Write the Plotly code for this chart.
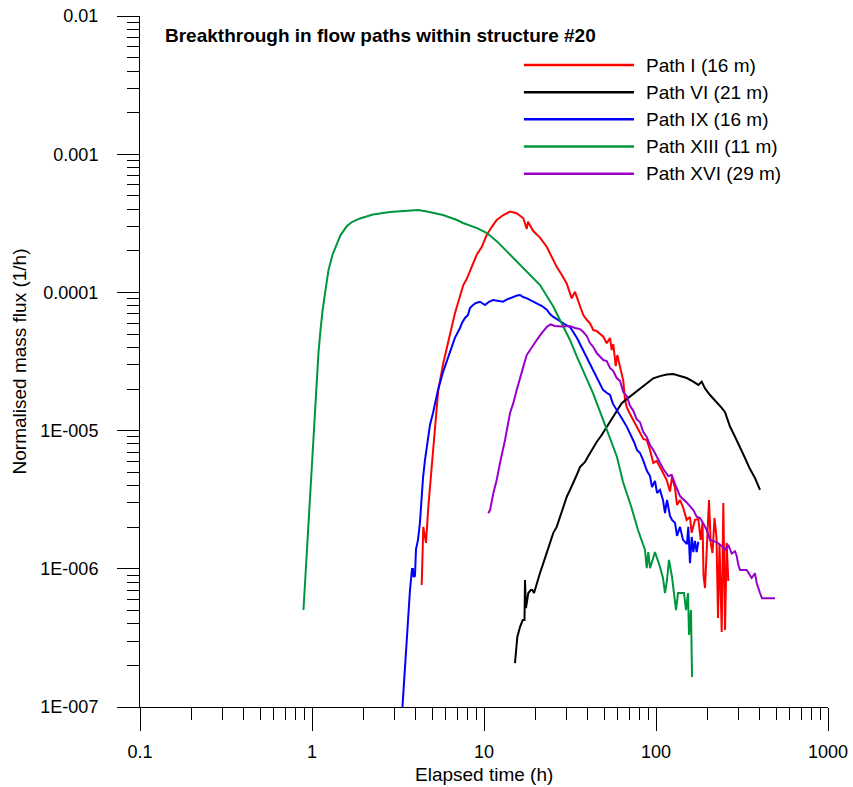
import plotly.graph_objects as go

# ---------------- data ----------------
series_names = ["Path I (16 m)", "Path VI (21 m)", "Path IX (16 m)",
                "Path XIII (11 m)", "Path XVI (29 m)"]
series_colors = ["#FF0000", "#000000", "#0000FF", "#00963C", "#9900CC"]

x_path_i = [4.343, 4.437, 4.600, 4.745, 4.965, 5.189, 5.424, 5.800, 6.200, 6.490,
            6.783, 7.253, 7.580, 7.932, 8.481, 9.071, 9.696, 10.37, 11.09, 11.85,
            12.95, 14.17, 15.49, 16.92, 17.72, 18.02, 19.34, 21.16, 23.15, 24.75,
            26.47, 28.30, 30.25, 32.35, 33.81, 36.15, 37.78, 39.70, 41.33, 43.20,
            45.20, 49.39, 51.69, 54.02, 55.26, 56.45, 58.31, 59.57, 61.76, 64.56,
            66.04, 67.57, 70.61, 73.80, 77.23, 80.73, 84.37,
            88.29, 92.28, 96.45, 100.9, 105.5, 110.3, 115.4, 120.6, 123.9, 129.0,
            132.5, 137.9, 143.5, 150.8, 157.6, 161.3, 168.5, 176.2, 181.9, 186.4,
            188.9, 192.7, 197.2, 203.3, 208.0, 213.1, 218.9, 224.8, 229.4, 234.0,
            241.0, 246.3, 251.9, 257.6, 263.2]
y_path_i = [7.64e-7, 2.01e-6, 1.54e-6, 2.80e-6, 5.45e-6, 1.06e-5, 1.97e-5, 3.08e-5, 4.52e-5, 5.62e-5,
            7.10e-5, 9.42e-5, 1.13e-4, 1.25e-4, 1.53e-4, 1.87e-4, 2.13e-4, 2.60e-4, 2.97e-4, 3.34e-4,
            3.63e-4, 3.84e-4, 3.74e-4, 3.44e-4, 2.88e-4, 3.25e-4, 2.78e-4, 2.49e-4, 2.14e-4, 1.81e-4,
            1.53e-4, 1.34e-4, 1.16e-4, 9.06e-5, 1.01e-4, 7.97e-5, 6.86e-5, 6.31e-5, 5.98e-5, 5.34e-5,
            5.26e-5, 4.78e-5, 4.28e-5, 4.68e-5, 3.83e-5, 4.23e-5, 2.93e-5, 3.52e-5, 2.89e-5, 2.29e-5,
            1.67e-5, 1.48e-5, 1.32e-5, 1.19e-5, 1.06e-5, 9.61e-6, 8.70e-6,
            8.55e-6, 7.24e-6, 5.83e-6, 6.03e-6, 5.45e-6, 4.93e-6, 4.39e-6, 3.62e-6, 4.62e-6, 3.84e-6,
            2.90e-6, 3.15e-6, 2.80e-6, 2.26e-6, 2.37e-6, 1.82e-6, 2.26e-6, 2.29e-6, 1.62e-6, 2.18e-6,
            9.02e-7, 7.26e-7, 1.37e-6, 3.15e-6, 1.54e-6, 1.30e-6, 2.33e-6, 1.67e-6, 4.41e-7, 1.51e-6,
            3.49e-7, 2.99e-6, 3.61e-7, 1.54e-6, 8.16e-7]

x_path_vi = [15.14, 15.35, 15.62, 16.19, 16.79, 17.20, 17.31, 17.54, 18.10, 18.69,
             19.10, 19.54, 20.25, 21.16, 22.13, 23.15, 24.19, 25.29, 26.47, 27.67,
             28.91, 30.25, 31.62, 33.05, 34.59, 36.15, 38.66, 40.41, 42.28, 45.20,
             48.33, 51.69, 55.26, 59.09, 63.18, 67.57, 73.80, 80.73, 88.29, 96.45,
             105.5, 115.4, 126.1, 137.9, 150.8, 164.8, 176.2, 184.4, 192.7, 206.1,
             225.4, 241.0, 251.9, 257.6, 269.3, 288.0, 307.9, 329.2, 352.0, 376.3, 402.4]
y_path_vi = [2.08e-7, 2.58e-7, 3.21e-7, 3.79e-7, 4.26e-7, 4.26e-7, 8.30e-7, 5.20e-7, 6.68e-7, 7.02e-7,
             7.02e-7, 6.68e-7, 7.89e-7, 9.32e-7, 1.10e-6, 1.30e-6, 1.54e-6, 1.82e-6, 2.01e-6, 2.37e-6,
             2.80e-6, 3.31e-6, 3.72e-6, 4.18e-6, 4.77e-6, 5.45e-6, 5.93e-6, 6.55e-6, 7.24e-6, 8.27e-6,
             9.29e-6, 1.06e-5, 1.21e-5, 1.41e-5, 1.58e-5, 1.69e-5, 1.84e-5, 2.02e-5, 2.20e-5, 2.39e-5,
             2.48e-5, 2.55e-5, 2.57e-5, 2.48e-5, 2.40e-5, 2.26e-5, 2.14e-5, 2.26e-5, 2.02e-5, 1.81e-5,
             1.61e-5, 1.46e-5, 1.36e-5, 1.25e-5, 1.07e-5, 9.03e-6, 7.65e-6, 6.34e-6, 5.27e-6, 4.54e-6, 3.72e-6]

x_path_ix = [3.313, 3.427, 3.567, 3.713, 3.814, 3.866, 3.891, 3.970, 4.024, 4.133,
             4.245, 4.331, 4.419, 4.539, 4.724, 4.853, 5.053, 5.402, 5.776, 6.176,
             6.783, 7.253, 7.450, 7.753, 8.072, 8.291, 8.630, 8.985, 9.478, 10.14,
             10.69, 11.28, 12.06, 12.90, 13.79, 14.74, 15.56, 16.19, 16.86, 17.78,
             19.01, 20.33, 21.74, 23.25, 24.19, 25.19, 26.93, 28.42, 29.98, 31.62,
             33.37, 34.73, 36.15, 37.63, 39.70, 41.33, 43.03, 45.39, 47.24, 49.19,
             51.90, 54.02, 56.23, 59.33, 61.76, 64.29, 67.83, 70.61, 74.50, 77.53,
             80.73, 84.03, 88.66, 92.28, 94.78, 98.67, 101.4, 105.5, 109.8, 112.8,
             115.9, 120.6, 123.9, 129.0, 132.5, 137.9, 143.5, 151.4, 154.1, 157.6,
             161.3, 164.8, 168.5, 172.4, 176.2]
y_path_ix = [7.79e-8, 1.57e-7, 3.73e-7, 7.02e-7, 9.97e-7, 9.97e-7, 8.72e-7, 8.87e-7, 1.39e-6, 1.62e-6,
             2.18e-6, 3.42e-6, 4.54e-6, 6.13e-6, 8.55e-6, 1.10e-5, 1.34e-5, 1.97e-5, 2.65e-5, 3.41e-5,
             4.71e-5, 5.53e-5, 6.01e-5, 6.53e-5, 6.86e-5, 7.71e-5, 8.11e-5, 8.38e-5, 8.56e-5, 8.11e-5,
             8.55e-5, 8.81e-5, 8.67e-5, 8.56e-5, 8.96e-5, 9.31e-5, 9.50e-5, 9.58e-5, 9.26e-5, 9.06e-5,
             8.67e-5, 8.34e-5, 7.97e-5, 7.46e-5, 6.98e-5, 6.67e-5, 6.31e-5, 6.01e-5, 5.81e-5, 5.62e-5,
             5.08e-5, 4.68e-5, 4.23e-5, 3.83e-5, 3.41e-5, 3.08e-5, 2.75e-5, 2.44e-5, 2.17e-5, 1.97e-5,
             1.87e-5, 1.81e-5, 1.56e-5, 1.41e-5, 1.28e-5, 1.19e-5, 1.06e-5, 9.61e-6, 8.27e-6, 7.24e-6,
             6.89e-6, 6.13e-6, 5.10e-6, 4.69e-6, 3.91e-6, 4.32e-6, 3.54e-6, 3.72e-6, 3.15e-6, 2.53e-6,
             3.15e-6, 2.41e-6, 2.26e-6, 2.15e-6, 1.73e-6, 2.01e-6, 1.62e-6, 1.51e-6, 2.01e-6, 1.10e-6,
             1.70e-6, 1.32e-6, 1.59e-6, 1.32e-6, 1.57e-6]

x_path_xiii = [0.892, 0.923, 0.961, 0.993, 1.027, 1.062, 1.091, 1.121, 1.151, 1.198,
               1.247, 1.316, 1.398, 1.465, 1.597, 1.708, 1.901, 2.263, 2.841, 3.473,
               4.133, 4.663, 5.775, 6.966, 7.550, 9.106, 10.41, 11.90, 14.16, 16.86,
               21.17, 25.19, 27.67, 31.62, 34.73, 39.71, 43.03, 50.52, 59.33, 64.29,
               71.55, 78.60, 86.30, 88.29, 90.20, 92.27, 98.67, 105.5, 109.8, 112.8,
               115.9, 119.0, 123.9, 130.7, 134.3, 145.5, 149.4, 153.5, 155.6, 159.7, 162.0]
y_path_xiii = [5.03e-7, 1.07e-6, 2.25e-6, 5.19e-6, 1.17e-5, 2.14e-5, 3.70e-5, 5.35e-5, 7.33e-5, 1.04e-4,
               1.45e-4, 1.87e-4, 2.28e-4, 2.60e-4, 3.02e-4, 3.23e-4, 3.43e-4, 3.66e-4, 3.82e-4, 3.91e-4,
               3.95e-4, 3.85e-4, 3.63e-4, 3.34e-4, 3.18e-4, 2.92e-4, 2.69e-4, 2.34e-4, 1.87e-4, 1.50e-4,
               1.13e-4, 7.97e-5, 6.31e-5, 4.53e-5, 3.41e-5, 2.32e-5, 1.87e-5, 1.10e-5, 6.44e-6, 4.25e-6,
               2.85e-6, 1.91e-6, 1.37e-6, 1.01e-6, 1.32e-6, 1.01e-6, 1.32e-6, 1.03e-6, 8.58e-7, 6.68e-7,
               8.30e-7, 1.16e-6, 8.72e-7, 5.03e-7, 6.68e-7, 6.68e-7, 5.03e-7, 6.68e-7, 3.32e-7, 5.03e-7, 1.65e-7]

x_path_xvi = [10.59, 10.84, 11.33, 11.85, 12.39, 13.25, 14.17, 14.80, 15.49, 16.19,
              16.92, 17.72, 18.94, 20.25, 21.65, 23.15, 24.36, 25.86, 28.30, 31.62,
              33.81, 36.15, 37.78, 39.55, 41.33, 43.20, 45.20, 49.39, 51.69, 54.02,
              56.45, 59.09, 61.76, 64.56, 67.57, 70.61, 73.80, 77.23, 80.73, 84.37,
              88.29, 92.28, 96.45, 100.9, 105.5, 110.3, 117.9, 123.4, 129.0, 137.9,
              150.8, 164.8, 172.4, 180.2, 188.4, 197.2, 206.1, 225.4, 241.0, 251.9,
              263.2, 275.5, 288.0, 294.6, 301.0, 307.9, 336.8, 360.1, 376.3, 385.0,
              402.4, 413.3, 491.9]
y_path_xvi = [2.52e-6, 2.66e-6, 3.52e-6, 4.39e-6, 5.83e-6, 8.55e-6, 1.34e-5, 1.58e-5, 1.97e-5, 2.44e-5,
              2.89e-5, 3.52e-5, 4.03e-5, 4.52e-5, 5.08e-5, 5.62e-5, 5.86e-5, 5.71e-5, 5.66e-5, 5.71e-5,
              5.53e-5, 5.43e-5, 5.17e-5, 4.84e-5, 4.30e-5, 4.03e-5, 3.64e-5, 3.24e-5, 3.19e-5, 2.84e-5,
              2.70e-5, 2.40e-5, 2.29e-5, 1.90e-5, 1.78e-5, 1.51e-5, 1.39e-5, 1.21e-5, 1.15e-5, 9.77e-6,
              8.99e-6, 7.87e-6, 7.24e-6, 6.55e-6, 5.93e-6, 5.27e-6, 4.69e-6, 4.77e-6, 4.11e-6, 3.36e-6,
              3.02e-6, 2.66e-6, 2.38e-6, 2.33e-6, 2.13e-6, 1.91e-6, 1.62e-6, 1.56e-6, 1.46e-6, 1.37e-6,
              1.49e-6, 1.29e-6, 1.34e-6, 1.24e-6, 1.07e-6, 9.80e-7, 9.80e-7, 8.58e-7, 9.28e-7, 7.89e-7,
              6.68e-7, 6.12e-7, 6.12e-7]

x_tick_values = [0.1, 1, 10, 100, 1000]
x_tick_labels = ["0.1", "1", "10", "100", "1000"]
y_tick_values = [1e-2, 1e-3, 1e-4, 1e-5, 1e-6, 1e-7]
y_tick_labels = ["0.01", "0.001", "0.0001", "1E-005", "1E-006", "1E-007"]

chart_title = "Breakthrough in flow paths within structure #20"
x_title = "Elapsed time (h)"
y_title = "Normalised mass flux (1/h)"

series_x = [x_path_i, x_path_vi, x_path_ix, x_path_xiii, x_path_xvi]
series_y = [y_path_i, y_path_vi, y_path_ix, y_path_xiii, y_path_xvi]

# minor tick positions (2..9 within each decade)
x_minor = [m * d for d in x_tick_values[:-1] for m in range(2, 10)]
y_minor = [m * d for d in y_tick_values[1:] for m in range(2, 10)]

FONT = "Liberation Sans, Arial, Helvetica, sans-serif"

fig = go.Figure()
for name, color, xs, ys in zip(series_names, series_colors, series_x, series_y):
    assert len(xs) == len(ys), name
    fig.add_trace(go.Scatter(x=xs, y=ys, mode="lines", name=name,
                             line=dict(color=color, width=2), showlegend=False))

axis_common = dict(type="log", showgrid=False, zeroline=False, showline=True,
                   linecolor="black", linewidth=1, ticks="outside", tickwidth=1,
                   tickcolor="black", tickmode="array", automargin=False,
                   ticklabeloverflow="allow",
                   tickfont=dict(family=FONT, size=18, color="black"))

fig.update_xaxes(**axis_common, range=[-1, 3], tickvals=x_tick_values,
                 ticktext=x_tick_labels, ticklen=23, ticklabelstandoff=5,
                 minor=dict(tickmode="array", tickvals=x_minor, ticks="outside",
                            ticklen=12, tickwidth=1, tickcolor="black", showgrid=False))
fig.update_yaxes(**axis_common, range=[-7, -2], tickvals=y_tick_values,
                 ticktext=y_tick_labels, ticklen=22, ticklabelstandoff=15,
                 minor=dict(tickmode="array", tickvals=y_minor, ticks="outside",
                            ticklen=12, tickwidth=1, tickcolor="black", showgrid=False))

annotations = [
    dict(text="<b>%s</b>" % chart_title, xref="paper", yref="paper", x=0.033, y=0.9725,
         xanchor="left", yanchor="middle", showarrow=False,
         font=dict(family=FONT, size=19, color="black")),
    dict(text=x_title, xref="paper", yref="paper", x=0.5, y=-0.097,
         xanchor="center", yanchor="middle", showarrow=False,
         font=dict(family=FONT, size=19, color="black")),
    dict(text=y_title, xref="paper", yref="paper", x=-0.1745, y=0.5,
         xanchor="center", yanchor="middle", showarrow=False, textangle=-90,
         font=dict(family=FONT, size=19, color="black")),
]

# hand-built legend (long line samples, as in the reference)
shapes = []
leg_top, leg_step = 0.929, 0.0393
for i, (name, color) in enumerate(zip(series_names, series_colors)):
    yy = leg_top - i * leg_step
    shapes.append(dict(type="line", xref="paper", yref="paper", x0=0.558, x1=0.718,
                       y0=yy, y1=yy, line=dict(color=color, width=2.5)))
    annotations.append(dict(text=name, xref="paper", yref="paper", x=0.732, y=yy,
                            xanchor="left", yanchor="middle", showarrow=False,
                            font=dict(family=FONT, size=19, color="black")))

# full-window figure; plot area at x 140..828, y 16..707 as in the reference
fig.update_layout(width=853, height=787, margin=dict(l=140, r=25, t=16, b=80),
                  plot_bgcolor="white", paper_bgcolor="white", showlegend=False,
                  font=dict(family=FONT, size=18, color="black"),
                  annotations=annotations, shapes=shapes)

# remove the page's default 8 px body margin so the figure fills the window
fig.write_html("out.html",
               config={"displayModeBar": False, "staticPlot": True},
               post_script="document.body.style.margin='0px';"
                           "document.body.style.overflow='hidden';")
